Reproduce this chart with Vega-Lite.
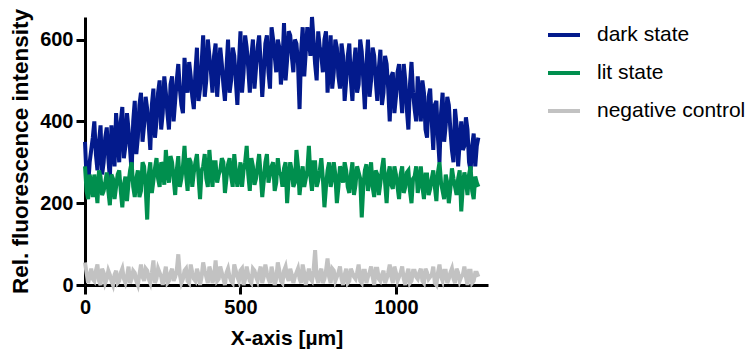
{
  "$schema": "https://vega.github.io/schema/vega-lite/v6.json",
  "width": 403,
  "height": 268,
  "autosize": "none",
  "padding": {"left": 85, "top": 17, "right": 261, "bottom": 66},
  "config": {"font": "Liberation Sans", "view": {"stroke": null}},
  "data": {"values": [
    {"x":0,"dark state":350,"lit state":290,"negative control":55},
    {"x":5,"dark state":260,"lit state":230,"negative control":30},
    {"x":10,"dark state":240,"lit state":210,"negative control":5},
    {"x":15,"dark state":300,"lit state":270,"negative control":20},
    {"x":20,"dark state":330,"lit state":250,"negative control":40},
    {"x":25,"dark state":360,"lit state":215,"negative control":15},
    {"x":30,"dark state":400,"lit state":270,"negative control":10},
    {"x":35,"dark state":320,"lit state":240,"negative control":35},
    {"x":40,"dark state":280,"lit state":200,"negative control":50},
    {"x":45,"dark state":350,"lit state":280,"negative control":10},
    {"x":50,"dark state":390,"lit state":265,"negative control":0},
    {"x":55,"dark state":270,"lit state":220,"negative control":40},
    {"x":60,"dark state":300,"lit state":230,"negative control":30},
    {"x":65,"dark state":360,"lit state":250,"negative control":5},
    {"x":70,"dark state":385,"lit state":275,"negative control":15},
    {"x":75,"dark state":310,"lit state":230,"negative control":35},
    {"x":80,"dark state":260,"lit state":195,"negative control":25},
    {"x":85,"dark state":390,"lit state":270,"negative control":10},
    {"x":90,"dark state":340,"lit state":260,"negative control":0},
    {"x":95,"dark state":290,"lit state":210,"negative control":25},
    {"x":100,"dark state":420,"lit state":240,"negative control":35},
    {"x":105,"dark state":360,"lit state":270,"negative control":5},
    {"x":110,"dark state":300,"lit state":280,"negative control":10},
    {"x":115,"dark state":400,"lit state":230,"negative control":30},
    {"x":120,"dark state":435,"lit state":190,"negative control":40},
    {"x":125,"dark state":310,"lit state":245,"negative control":15},
    {"x":130,"dark state":340,"lit state":265,"negative control":5},
    {"x":135,"dark state":420,"lit state":205,"negative control":20},
    {"x":140,"dark state":380,"lit state":250,"negative control":45},
    {"x":145,"dark state":330,"lit state":280,"negative control":5},
    {"x":150,"dark state":275,"lit state":300,"negative control":15},
    {"x":155,"dark state":400,"lit state":240,"negative control":35},
    {"x":160,"dark state":450,"lit state":215,"negative control":30},
    {"x":165,"dark state":320,"lit state":260,"negative control":10},
    {"x":170,"dark state":360,"lit state":280,"negative control":0},
    {"x":175,"dark state":440,"lit state":215,"negative control":25},
    {"x":180,"dark state":470,"lit state":230,"negative control":50},
    {"x":185,"dark state":350,"lit state":300,"negative control":20},
    {"x":190,"dark state":390,"lit state":290,"negative control":10},
    {"x":195,"dark state":460,"lit state":240,"negative control":40},
    {"x":200,"dark state":430,"lit state":160,"negative control":35},
    {"x":205,"dark state":390,"lit state":270,"negative control":15},
    {"x":210,"dark state":330,"lit state":300,"negative control":5},
    {"x":215,"dark state":440,"lit state":225,"negative control":30},
    {"x":220,"dark state":480,"lit state":255,"negative control":60},
    {"x":225,"dark state":360,"lit state":285,"negative control":5},
    {"x":230,"dark state":400,"lit state":310,"negative control":15},
    {"x":235,"dark state":470,"lit state":260,"negative control":40},
    {"x":240,"dark state":500,"lit state":240,"negative control":30},
    {"x":245,"dark state":380,"lit state":300,"negative control":20},
    {"x":250,"dark state":420,"lit state":290,"negative control":0},
    {"x":255,"dark state":510,"lit state":245,"negative control":25},
    {"x":260,"dark state":470,"lit state":330,"negative control":45},
    {"x":265,"dark state":420,"lit state":280,"negative control":5},
    {"x":270,"dark state":380,"lit state":250,"negative control":10},
    {"x":275,"dark state":490,"lit state":315,"negative control":30},
    {"x":280,"dark state":510,"lit state":300,"negative control":40},
    {"x":285,"dark state":400,"lit state":260,"negative control":10},
    {"x":290,"dark state":450,"lit state":220,"negative control":20},
    {"x":295,"dark state":500,"lit state":280,"negative control":35},
    {"x":300,"dark state":540,"lit state":315,"negative control":75},
    {"x":305,"dark state":480,"lit state":240,"negative control":25},
    {"x":310,"dark state":440,"lit state":260,"negative control":5},
    {"x":315,"dark state":420,"lit state":290,"negative control":15},
    {"x":320,"dark state":555,"lit state":340,"negative control":35},
    {"x":325,"dark state":500,"lit state":270,"negative control":40},
    {"x":330,"dark state":470,"lit state":230,"negative control":10},
    {"x":335,"dark state":545,"lit state":310,"negative control":5},
    {"x":340,"dark state":510,"lit state":300,"negative control":50},
    {"x":345,"dark state":460,"lit state":240,"negative control":30},
    {"x":350,"dark state":430,"lit state":275,"negative control":15},
    {"x":355,"dark state":520,"lit state":300,"negative control":10},
    {"x":360,"dark state":580,"lit state":320,"negative control":40},
    {"x":365,"dark state":450,"lit state":265,"negative control":25},
    {"x":370,"dark state":480,"lit state":210,"negative control":0},
    {"x":375,"dark state":540,"lit state":280,"negative control":20},
    {"x":380,"dark state":610,"lit state":290,"negative control":55},
    {"x":385,"dark state":460,"lit state":320,"negative control":35},
    {"x":390,"dark state":500,"lit state":260,"negative control":20},
    {"x":395,"dark state":600,"lit state":240,"negative control":5},
    {"x":400,"dark state":560,"lit state":330,"negative control":45},
    {"x":405,"dark state":520,"lit state":280,"negative control":30},
    {"x":410,"dark state":470,"lit state":240,"negative control":5},
    {"x":415,"dark state":560,"lit state":300,"negative control":20},
    {"x":420,"dark state":590,"lit state":300,"negative control":60},
    {"x":425,"dark state":460,"lit state":250,"negative control":10},
    {"x":430,"dark state":520,"lit state":270,"negative control":15},
    {"x":435,"dark state":580,"lit state":280,"negative control":45},
    {"x":440,"dark state":540,"lit state":310,"negative control":30},
    {"x":445,"dark state":490,"lit state":300,"negative control":15},
    {"x":450,"dark state":450,"lit state":225,"negative control":0},
    {"x":455,"dark state":530,"lit state":260,"negative control":30},
    {"x":460,"dark state":600,"lit state":295,"negative control":40},
    {"x":465,"dark state":470,"lit state":310,"negative control":20},
    {"x":470,"dark state":500,"lit state":265,"negative control":10},
    {"x":475,"dark state":580,"lit state":240,"negative control":5},
    {"x":480,"dark state":560,"lit state":320,"negative control":50},
    {"x":485,"dark state":500,"lit state":280,"negative control":35},
    {"x":490,"dark state":440,"lit state":240,"negative control":20},
    {"x":495,"dark state":540,"lit state":265,"negative control":10},
    {"x":500,"dark state":620,"lit state":300,"negative control":35},
    {"x":505,"dark state":470,"lit state":240,"negative control":40},
    {"x":510,"dark state":520,"lit state":280,"negative control":0},
    {"x":515,"dark state":610,"lit state":300,"negative control":15},
    {"x":520,"dark state":580,"lit state":340,"negative control":45},
    {"x":525,"dark state":530,"lit state":270,"negative control":25},
    {"x":530,"dark state":470,"lit state":230,"negative control":10},
    {"x":535,"dark state":560,"lit state":310,"negative control":5},
    {"x":540,"dark state":600,"lit state":290,"negative control":40},
    {"x":545,"dark state":480,"lit state":245,"negative control":35},
    {"x":550,"dark state":530,"lit state":260,"negative control":20},
    {"x":555,"dark state":580,"lit state":290,"negative control":10},
    {"x":560,"dark state":610,"lit state":320,"negative control":30},
    {"x":565,"dark state":540,"lit state":270,"negative control":45},
    {"x":570,"dark state":460,"lit state":215,"negative control":5},
    {"x":575,"dark state":520,"lit state":255,"negative control":20},
    {"x":580,"dark state":590,"lit state":300,"negative control":50},
    {"x":585,"dark state":610,"lit state":320,"negative control":30},
    {"x":590,"dark state":520,"lit state":250,"negative control":15},
    {"x":595,"dark state":480,"lit state":270,"negative control":5},
    {"x":600,"dark state":630,"lit state":290,"negative control":45},
    {"x":605,"dark state":600,"lit state":300,"negative control":25},
    {"x":610,"dark state":560,"lit state":230,"negative control":0},
    {"x":615,"dark state":520,"lit state":250,"negative control":15},
    {"x":620,"dark state":600,"lit state":310,"negative control":55},
    {"x":625,"dark state":580,"lit state":275,"negative control":35},
    {"x":630,"dark state":490,"lit state":270,"negative control":10},
    {"x":635,"dark state":540,"lit state":240,"negative control":5},
    {"x":640,"dark state":640,"lit state":285,"negative control":35},
    {"x":645,"dark state":500,"lit state":300,"negative control":45},
    {"x":650,"dark state":550,"lit state":200,"negative control":20},
    {"x":655,"dark state":620,"lit state":260,"negative control":10},
    {"x":660,"dark state":610,"lit state":300,"negative control":40},
    {"x":665,"dark state":560,"lit state":280,"negative control":25},
    {"x":670,"dark state":520,"lit state":240,"negative control":5},
    {"x":675,"dark state":600,"lit state":250,"negative control":20},
    {"x":680,"dark state":590,"lit state":330,"negative control":30},
    {"x":685,"dark state":540,"lit state":290,"negative control":40},
    {"x":690,"dark state":430,"lit state":220,"negative control":15},
    {"x":695,"dark state":570,"lit state":260,"negative control":5},
    {"x":700,"dark state":630,"lit state":290,"negative control":50},
    {"x":705,"dark state":510,"lit state":240,"negative control":30},
    {"x":710,"dark state":570,"lit state":260,"negative control":0},
    {"x":715,"dark state":630,"lit state":280,"negative control":20},
    {"x":720,"dark state":600,"lit state":340,"negative control":40},
    {"x":725,"dark state":560,"lit state":265,"negative control":15},
    {"x":730,"dark state":655,"lit state":230,"negative control":10},
    {"x":735,"dark state":600,"lit state":300,"negative control":35},
    {"x":740,"dark state":540,"lit state":300,"negative control":85},
    {"x":745,"dark state":500,"lit state":240,"negative control":20},
    {"x":750,"dark state":620,"lit state":255,"negative control":5},
    {"x":755,"dark state":580,"lit state":280,"negative control":30},
    {"x":760,"dark state":560,"lit state":310,"negative control":40},
    {"x":765,"dark state":520,"lit state":260,"negative control":5},
    {"x":770,"dark state":600,"lit state":190,"negative control":15},
    {"x":775,"dark state":620,"lit state":240,"negative control":35},
    {"x":780,"dark state":470,"lit state":280,"negative control":65},
    {"x":785,"dark state":540,"lit state":300,"negative control":20},
    {"x":790,"dark state":610,"lit state":240,"negative control":5},
    {"x":795,"dark state":480,"lit state":260,"negative control":40},
    {"x":800,"dark state":520,"lit state":300,"negative control":35},
    {"x":805,"dark state":600,"lit state":270,"negative control":10},
    {"x":810,"dark state":580,"lit state":200,"negative control":20},
    {"x":815,"dark state":510,"lit state":240,"negative control":30},
    {"x":820,"dark state":480,"lit state":290,"negative control":45},
    {"x":825,"dark state":590,"lit state":275,"negative control":15},
    {"x":830,"dark state":560,"lit state":250,"negative control":0},
    {"x":835,"dark state":450,"lit state":300,"negative control":25},
    {"x":840,"dark state":500,"lit state":280,"negative control":40},
    {"x":845,"dark state":560,"lit state":240,"negative control":5},
    {"x":850,"dark state":590,"lit state":225,"negative control":10},
    {"x":855,"dark state":500,"lit state":270,"negative control":40},
    {"x":860,"dark state":450,"lit state":300,"negative control":30},
    {"x":865,"dark state":540,"lit state":220,"negative control":20},
    {"x":870,"dark state":580,"lit state":245,"negative control":15},
    {"x":875,"dark state":470,"lit state":290,"negative control":30},
    {"x":880,"dark state":490,"lit state":275,"negative control":50},
    {"x":885,"dark state":600,"lit state":260,"negative control":10},
    {"x":890,"dark state":570,"lit state":165,"negative control":5},
    {"x":895,"dark state":500,"lit state":240,"negative control":35},
    {"x":900,"dark state":430,"lit state":280,"negative control":35},
    {"x":905,"dark state":540,"lit state":295,"negative control":5},
    {"x":910,"dark state":600,"lit state":230,"negative control":20},
    {"x":915,"dark state":460,"lit state":260,"negative control":30},
    {"x":920,"dark state":500,"lit state":300,"negative control":45},
    {"x":925,"dark state":580,"lit state":240,"negative control":20},
    {"x":930,"dark state":560,"lit state":215,"negative control":0},
    {"x":935,"dark state":500,"lit state":280,"negative control":40},
    {"x":940,"dark state":450,"lit state":270,"negative control":40},
    {"x":945,"dark state":530,"lit state":220,"negative control":15},
    {"x":950,"dark state":575,"lit state":250,"negative control":10},
    {"x":955,"dark state":440,"lit state":285,"negative control":25},
    {"x":960,"dark state":470,"lit state":310,"negative control":35},
    {"x":965,"dark state":560,"lit state":250,"negative control":5},
    {"x":970,"dark state":540,"lit state":200,"negative control":15},
    {"x":975,"dark state":480,"lit state":270,"negative control":30},
    {"x":980,"dark state":400,"lit state":290,"negative control":50},
    {"x":985,"dark state":510,"lit state":245,"negative control":20},
    {"x":990,"dark state":520,"lit state":235,"negative control":5},
    {"x":995,"dark state":420,"lit state":290,"negative control":45},
    {"x":1000,"dark state":460,"lit state":270,"negative control":30},
    {"x":1005,"dark state":520,"lit state":240,"negative control":10},
    {"x":1010,"dark state":540,"lit state":210,"negative control":20},
    {"x":1015,"dark state":470,"lit state":270,"negative control":30},
    {"x":1020,"dark state":420,"lit state":290,"negative control":45},
    {"x":1025,"dark state":540,"lit state":225,"negative control":15},
    {"x":1030,"dark state":500,"lit state":240,"negative control":0},
    {"x":1035,"dark state":430,"lit state":275,"negative control":25},
    {"x":1040,"dark state":380,"lit state":280,"negative control":40},
    {"x":1045,"dark state":490,"lit state":230,"negative control":5},
    {"x":1050,"dark state":545,"lit state":200,"negative control":10},
    {"x":1055,"dark state":470,"lit state":260,"negative control":35},
    {"x":1060,"dark state":430,"lit state":265,"negative control":35},
    {"x":1065,"dark state":400,"lit state":290,"negative control":20},
    {"x":1070,"dark state":510,"lit state":225,"negative control":15},
    {"x":1075,"dark state":460,"lit state":250,"negative control":30},
    {"x":1080,"dark state":400,"lit state":290,"negative control":40},
    {"x":1085,"dark state":500,"lit state":240,"negative control":10},
    {"x":1090,"dark state":470,"lit state":210,"negative control":5},
    {"x":1095,"dark state":380,"lit state":270,"negative control":40},
    {"x":1100,"dark state":360,"lit state":270,"negative control":30},
    {"x":1105,"dark state":460,"lit state":220,"negative control":15},
    {"x":1110,"dark state":480,"lit state":235,"negative control":20},
    {"x":1115,"dark state":400,"lit state":260,"negative control":25},
    {"x":1120,"dark state":330,"lit state":280,"negative control":45},
    {"x":1125,"dark state":440,"lit state":240,"negative control":5},
    {"x":1130,"dark state":450,"lit state":205,"negative control":0},
    {"x":1135,"dark state":360,"lit state":275,"negative control":30},
    {"x":1140,"dark state":300,"lit state":300,"negative control":50},
    {"x":1145,"dark state":420,"lit state":250,"negative control":20},
    {"x":1150,"dark state":470,"lit state":230,"negative control":10},
    {"x":1155,"dark state":350,"lit state":210,"negative control":35},
    {"x":1160,"dark state":390,"lit state":270,"negative control":35},
    {"x":1165,"dark state":460,"lit state":250,"negative control":5},
    {"x":1170,"dark state":440,"lit state":200,"negative control":15},
    {"x":1175,"dark state":380,"lit state":235,"negative control":30},
    {"x":1180,"dark state":330,"lit state":285,"negative control":40},
    {"x":1185,"dark state":300,"lit state":260,"negative control":15},
    {"x":1190,"dark state":430,"lit state":240,"negative control":5},
    {"x":1195,"dark state":390,"lit state":220,"negative control":40},
    {"x":1200,"dark state":290,"lit state":260,"negative control":30},
    {"x":1205,"dark state":350,"lit state":280,"negative control":10},
    {"x":1210,"dark state":400,"lit state":180,"negative control":20},
    {"x":1215,"dark state":330,"lit state":240,"negative control":25},
    {"x":1220,"dark state":340,"lit state":275,"negative control":45},
    {"x":1225,"dark state":410,"lit state":255,"negative control":20},
    {"x":1230,"dark state":380,"lit state":220,"negative control":0},
    {"x":1235,"dark state":300,"lit state":270,"negative control":35},
    {"x":1240,"dark state":280,"lit state":290,"negative control":35},
    {"x":1245,"dark state":340,"lit state":230,"negative control":5},
    {"x":1250,"dark state":370,"lit state":210,"negative control":10},
    {"x":1255,"dark state":290,"lit state":265,"negative control":30},
    {"x":1260,"dark state":340,"lit state":250,"negative control":30},
    {"x":1265,"dark state":360,"lit state":240,"negative control":20}
  ]},
  "transform": [
    {"fold": ["dark state", "lit state", "negative control"], "as": ["series", "value"]}
  ],
  "mark": {"type": "line", "strokeWidth": 4, "interpolate": "linear"},
  "encoding": {
    "x": {
      "field": "x", "type": "quantitative",
      "scale": {"domain": [0, 1296], "nice": false, "zero": false},
      "axis": {
        "values": [0, 500, 1000],
        "format": "d",
        "title": "X-axis [µm]",
        "grid": false,
        "domainColor": "black", "domainWidth": 3,
        "tickColor": "black", "tickWidth": 3, "tickSize": 9,
        "labelFontSize": 20, "labelFontWeight": "bold", "labelColor": "black", "labelPadding": 3,
        "labelFlush": false,
        "titleFontSize": 21, "titleFontWeight": "bold", "titleColor": "black", "titlePadding": 10
      }
    },
    "y": {
      "field": "value", "type": "quantitative",
      "scale": {"domain": [0, 655], "nice": false},
      "axis": {
        "values": [0, 200, 400, 600],
        "title": "Rel. fluorescence intensity",
        "grid": false,
        "domainColor": "black", "domainWidth": 3,
        "tickColor": "black", "tickWidth": 3, "tickSize": 9,
        "labelFontSize": 20, "labelFontWeight": "bold", "labelColor": "black", "labelPadding": 3,
        "labelFlush": false,
        "titleFontSize": 22.5, "titleFontWeight": "bold", "titleColor": "black", "titlePadding": 7
      }
    },
    "color": {
      "field": "series", "type": "nominal",
      "scale": {"domain": ["dark state", "lit state", "negative control"], "range": ["#031a8c", "#008f4e", "#c2c2c2"]},
      "legend": {
        "title": null,
        "orient": "none", "legendX": 461, "legendY": 0,
        "symbolType": "stroke", "symbolSize": 1024, "symbolStrokeWidth": 4,
        "labelFontSize": 21, "labelColor": "black", "labelOffset": 15,
        "rowPadding": 10, "padding": 0
      }
    }
  }
}
